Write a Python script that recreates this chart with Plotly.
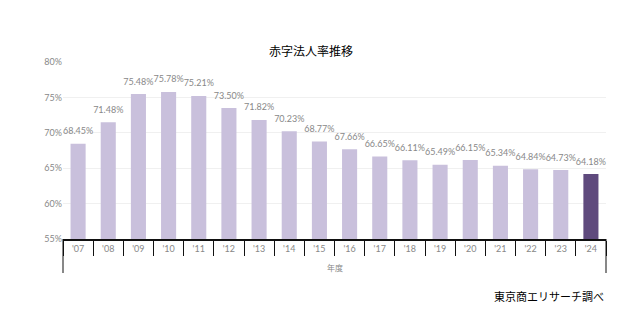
import plotly.graph_objects as go

# Fiscal years and share of loss-making corporations (%)
years = ["'07", "'08", "'09", "'10", "'11", "'12", "'13", "'14", "'15", "'16",
         "'17", "'18", "'19", "'20", "'21", "'22", "'23", "'24"]
rates = [68.45, 71.48, 75.48, 75.78, 75.21, 73.50, 71.82, 70.23, 68.77, 67.66,
         66.65, 66.11, 65.49, 66.15, 65.34, 64.84, 64.73, 64.18]
y_ticks = [55, 60, 65, 70, 75, 80]
y_labels = [f"{v}%" for v in y_ticks]

light = "#c9c0dc"
dark = "#5f4a7d"
colors = [light] * (len(years) - 1) + [dark]

W, H = 637, 329
ml, mr, mt, mb = 63, 31, 62, 90
ph = H - mt - mb

fig = go.Figure()
fig.add_trace(go.Bar(
    x=years, y=rates,
    marker=dict(color=colors, line=dict(width=0)),
    width=0.5,
    hoverinfo="x+y",
))
# value labels sit a little above each bar top
fig.add_trace(go.Scatter(
    x=years, y=rates,
    mode="markers+text",
    marker=dict(size=10, opacity=0),
    text=[f"{v:.2f}%" for v in rates],
    textposition="top center",
    textfont=dict(family="Lato, sans-serif", size=9, color="#888888"),
    cliponaxis=False,
    hoverinfo="skip",
))

fig.update_layout(
    width=W, height=H,
    margin=dict(l=ml, r=mr, t=mt, b=mb),
    paper_bgcolor="white", plot_bgcolor="white",
    showlegend=False,
    title=dict(
        text="赤字法人率推移",
        x=311 / W, xanchor="center", xref="container",
        y=1 - 52 / H, yanchor="middle", yref="container",
        font=dict(family="Noto Sans CJK JP", size=12, color="#000000"),
    ),
    xaxis=dict(
        type="category",
        range=[-0.5, len(years) - 0.5],
        showline=True, linecolor="#111111", linewidth=1.5,
        ticks="outside", tickson="boundaries", ticklen=15,
        tickcolor="#111111", tickwidth=1,
        tickfont=dict(family="Lato, sans-serif", size=9, color="#888888"),
        showgrid=False,
    ),
    yaxis=dict(
        range=[55, 80],
        tickvals=y_ticks, ticktext=y_labels,
        tickfont=dict(family="Lato, sans-serif", size=9, color="#888888"),
        showgrid=True, gridcolor="#f0f0f0", gridwidth=1,
        zeroline=False, showline=False, ticks="",
    ),
    shapes=[
        dict(type="line", xref="paper", yref="paper", x0=0, x1=0,
             y0=0, y1=-34 / ph, line=dict(color="#111111", width=1)),
        dict(type="line", xref="paper", yref="paper", x0=1, x1=1,
             y0=0, y1=-34 / ph, line=dict(color="#111111", width=1)),
    ],
    annotations=[
        dict(text="年度", xref="paper", yref="paper", x=0.5, y=-28 / ph,
             xanchor="center", yanchor="middle", showarrow=False,
             font=dict(family="Noto Sans CJK JP", size=8, color="#888888")),
        dict(text="東京商エリサーチ調べ", xref="paper", yref="paper",
             x=1.0, y=-57 / ph, xanchor="right", yanchor="middle",
             showarrow=False,
             font=dict(family="Noto Sans CJK JP", size=11, color="#000000")),
    ],
)

fig.write_html("out.html")
